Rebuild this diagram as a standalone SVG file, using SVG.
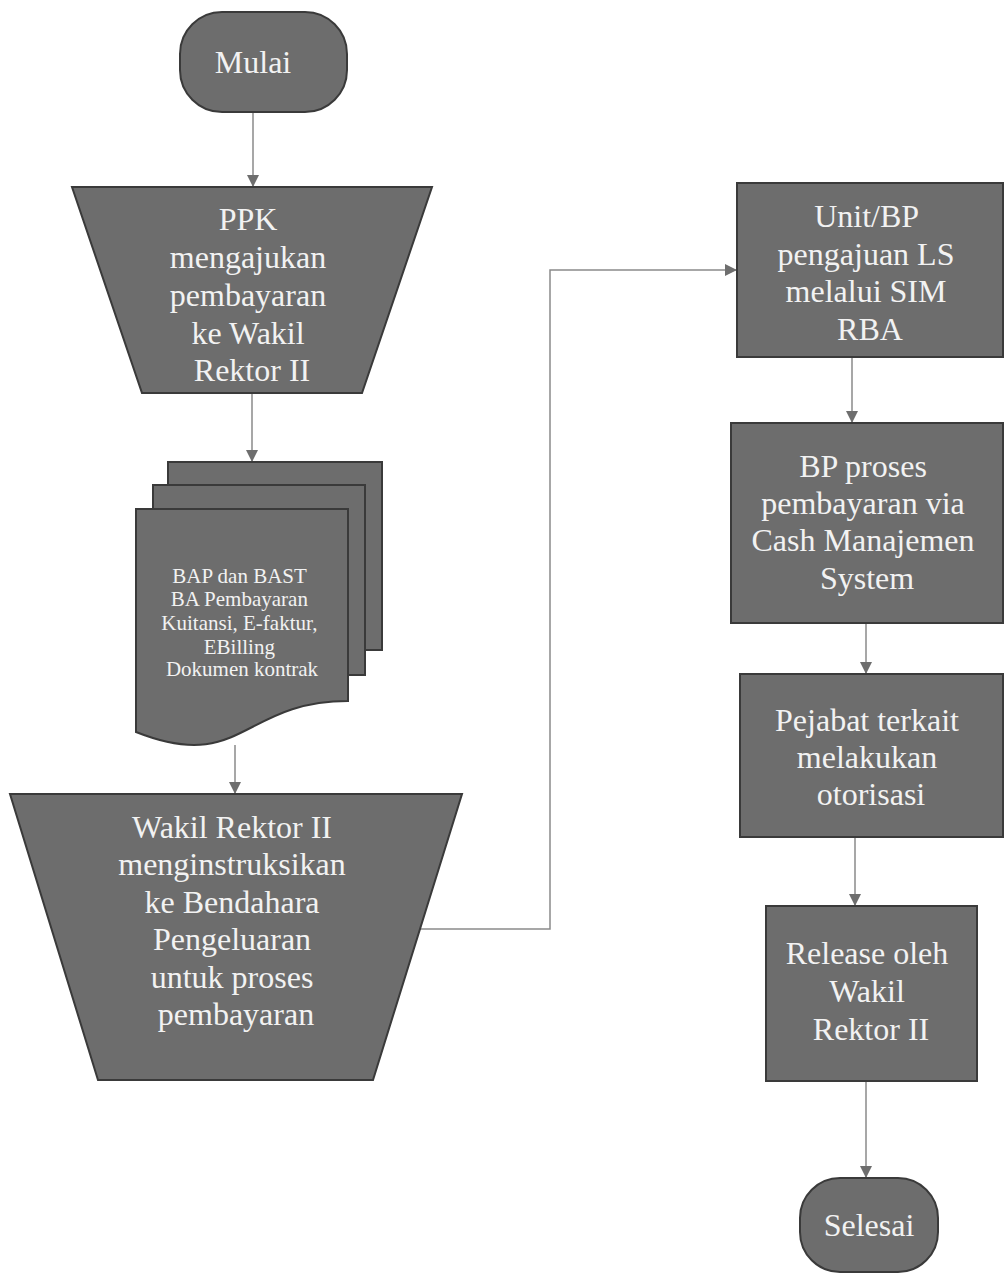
<svg xmlns="http://www.w3.org/2000/svg" width="1005" height="1277" viewBox="0 0 1005 1277">
  <style>
    .shape { fill: #6d6d6d; stroke: #3a3a3a; stroke-width: 2; }
    .lbl { font-family: "Liberation Serif", "Times New Roman", serif; fill: #f2f2f2; text-anchor: middle; font-size: 32px; }
    .small { font-size: 21px; }
    .conn { fill: none; stroke: #8a8a8a; stroke-width: 1.5; }
  </style>
  <defs>
    <marker id="arrow" viewBox="0 0 12 12" refX="11" refY="6" markerWidth="12" markerHeight="12" markerUnits="userSpaceOnUse" orient="auto">
      <path d="M0,0 L12,6 L0,12 Z" fill="#6e6e6e"/>
    </marker>
  </defs>
  <rect width="1005" height="1277" fill="#ffffff"/>

  <!-- connectors -->
  <g id="connectors">
    <path class="conn" d="M253,112 V186" marker-end="url(#arrow)"/>
    <path class="conn" d="M252,393 V461" marker-end="url(#arrow)"/>
    <path class="conn" d="M235,745 V793" marker-end="url(#arrow)"/>
    <path class="conn" d="M420,929 H550 V270 H736" marker-end="url(#arrow)"/>
    <path class="conn" d="M852,357 V422" marker-end="url(#arrow)"/>
    <path class="conn" d="M866,623 V673" marker-end="url(#arrow)"/>
    <path class="conn" d="M855,837 V905" marker-end="url(#arrow)"/>
    <path class="conn" d="M866,1081 V1177" marker-end="url(#arrow)"/>
  </g>

  <!-- start terminal -->
  <g id="mulai">
    <rect class="shape" x="180" y="12" width="167" height="100" rx="42" ry="42"/>
    <text class="lbl" x="253" y="73">Mulai</text>
  </g>

  <!-- manual operation: PPK -->
  <g id="ppk">
    <polygon class="shape" points="72,187 432,187 362,393 142,393"/>
    <text class="lbl" x="252">
      <tspan x="252" y="230">PPK</tspan>
      <tspan x="252" y="268">mengajukan</tspan>
      <tspan x="252" y="306">pembayaran</tspan>
      <tspan x="252" y="344">ke Wakil</tspan>
      <tspan x="252" y="381">Rektor II</tspan>
    </text>
  </g>

  <!-- multi-document -->
  <g id="dokumen">
    <rect class="shape" x="168" y="462" width="214" height="188"/>
    <rect class="shape" x="153" y="485" width="212" height="190"/>
    <path class="shape" d="M136,509 H348 V701 C242,701 242,774 136,732 Z"/>
    <text class="lbl small" x="242">
      <tspan x="242" y="583">BAP dan BAST</tspan>
      <tspan x="242" y="606">BA Pembayaran</tspan>
      <tspan x="242" y="630">Kuitansi, E-faktur,</tspan>
      <tspan x="242" y="654">EBilling</tspan>
      <tspan x="242" y="676">Dokumen kontrak</tspan>
    </text>
  </g>

  <!-- manual operation: Wakil Rektor II -->
  <g id="wakil-rektor">
    <polygon class="shape" points="10,794 462,794 373,1080 98,1080"/>
    <text class="lbl" x="236">
      <tspan x="236" y="838">Wakil Rektor II</tspan>
      <tspan x="236" y="875">menginstruksikan</tspan>
      <tspan x="236" y="913">ke Bendahara</tspan>
      <tspan x="236" y="950">Pengeluaran</tspan>
      <tspan x="236" y="988">untuk proses</tspan>
      <tspan x="236" y="1025">pembayaran</tspan>
    </text>
  </g>

  <!-- process boxes -->
  <g id="pengajuan-ls">
    <rect class="shape" x="737" y="183" width="266" height="174"/>
    <text class="lbl" x="870">
      <tspan x="870" y="227">Unit/BP</tspan>
      <tspan x="870" y="265">pengajuan LS</tspan>
      <tspan x="870" y="302">melalui SIM</tspan>
      <tspan x="870" y="340">RBA</tspan>
    </text>
  </g>

  <g id="proses-cms">
    <rect class="shape" x="731" y="423" width="272" height="200"/>
    <text class="lbl" x="867">
      <tspan x="867" y="477">BP proses</tspan>
      <tspan x="867" y="514">pembayaran via</tspan>
      <tspan x="867" y="551">Cash Manajemen</tspan>
      <tspan x="867" y="589">System</tspan>
    </text>
  </g>

  <g id="otorisasi">
    <rect class="shape" x="740" y="674" width="263" height="163"/>
    <text class="lbl" x="871">
      <tspan x="871" y="731">Pejabat terkait</tspan>
      <tspan x="871" y="768">melakukan</tspan>
      <tspan x="871" y="805">otorisasi</tspan>
    </text>
  </g>

  <g id="release">
    <rect class="shape" x="766" y="906" width="211" height="175"/>
    <text class="lbl" x="871">
      <tspan x="871" y="964">Release oleh</tspan>
      <tspan x="871" y="1002">Wakil</tspan>
      <tspan x="871" y="1040">Rektor II</tspan>
    </text>
  </g>

  <!-- end terminal -->
  <g id="selesai">
    <rect class="shape" x="800" y="1178" width="138" height="94" rx="40" ry="40"/>
    <text class="lbl" x="869" y="1236">Selesai</text>
  </g>
</svg>
